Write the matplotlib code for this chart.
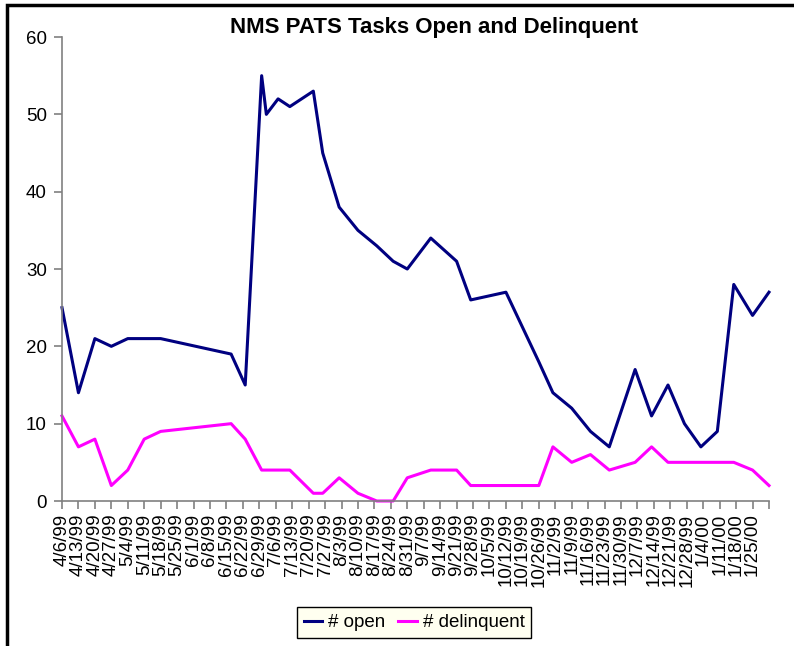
import datetime as dt
import matplotlib
matplotlib.use("Agg")
import matplotlib.pyplot as plt
import matplotlib.dates as mdates
from matplotlib.patches import Rectangle

plt.rcParams['font.family'] = ['Liberation Sans', 'DejaVu Sans']

title = "NMS PATS Tasks Open and Delinquent"

dates = ["1999-04-06", "1999-04-13", "1999-04-20", "1999-04-27", "1999-05-04",
         "1999-05-11", "1999-05-18", "1999-06-17", "1999-06-23", "1999-06-30",
         "1999-07-02", "1999-07-07", "1999-07-12", "1999-07-22", "1999-07-26",
         "1999-08-02", "1999-08-10", "1999-08-18", "1999-08-25", "1999-08-31",
         "1999-09-10", "1999-09-21", "1999-09-27", "1999-10-12", "1999-10-26",
         "1999-11-01", "1999-11-09", "1999-11-17", "1999-11-25", "1999-12-06",
         "1999-12-13", "1999-12-20", "1999-12-27", "2000-01-03", "2000-01-10",
         "2000-01-17", "2000-01-25", "2000-02-01"]

open_tasks = [25, 14, 21, 20, 21, 21, 21, 19, 15, 55,
              50, 52, 51, 53, 45, 38, 35, 33, 31, 30,
              34, 31, 26, 27, 18, 14, 12, 9, 7, 17,
              11, 15, 10, 7, 9, 28, 24, 27]

delinquent = [11, 7, 8, 2, 4, 8, 9, 10, 8, 4,
              4, 4, 4, 1, 1, 3, 1, 0, 0, 3,
              4, 4, 2, 2, 2, 7, 5, 6, 4, 5,
              7, 5, 5, 5, 5, 5, 4, 2]

tick_dates = ["1999-04-06", "1999-04-13", "1999-04-20", "1999-04-27", "1999-05-04",
              "1999-05-11", "1999-05-18", "1999-05-25", "1999-06-01", "1999-06-08",
              "1999-06-15", "1999-06-22", "1999-06-29", "1999-07-06", "1999-07-13",
              "1999-07-20", "1999-07-27", "1999-08-03", "1999-08-10", "1999-08-17",
              "1999-08-24", "1999-08-31", "1999-09-07", "1999-09-14", "1999-09-21",
              "1999-09-28", "1999-10-05", "1999-10-12", "1999-10-19", "1999-10-26",
              "1999-11-02", "1999-11-09", "1999-11-16", "1999-11-23", "1999-11-30",
              "1999-12-07", "1999-12-14", "1999-12-21", "1999-12-28", "2000-01-04",
              "2000-01-11", "2000-01-18", "2000-01-25", "2000-02-01"]

tick_labels = ["4/6/99", "4/13/99", "4/20/99", "4/27/99", "5/4/99",
               "5/11/99", "5/18/99", "5/25/99", "6/1/99", "6/8/99",
               "6/15/99", "6/22/99", "6/29/99", "7/6/99", "7/13/99",
               "7/20/99", "7/27/99", "8/3/99", "8/10/99", "8/17/99",
               "8/24/99", "8/31/99", "9/7/99", "9/14/99", "9/21/99",
               "9/28/99", "10/5/99", "10/12/99", "10/19/99", "10/26/99",
               "11/2/99", "11/9/99", "11/16/99", "11/23/99", "11/30/99",
               "12/7/99", "12/14/99", "12/21/99", "12/28/99", "1/4/00",
               "1/11/00", "1/18/00", "1/25/00", ""]

series_names = ["# open", "# delinquent"]

to_dt = lambda s: dt.datetime.strptime(s, "%Y-%m-%d")
x = [to_dt(d) for d in dates]
xt = [to_dt(d) for d in tick_dates]

fig = plt.figure(figsize=(7.94, 6.46), dpi=100)
ax = fig.add_axes([62/794, 1 - 501/646, (769 - 62)/794, (501 - 37)/646])

l1, = ax.plot(x, open_tasks, color="#000080", lw=2.2, label=series_names[0])
l2, = ax.plot(x, delinquent, color="#FF00FF", lw=2.2, label=series_names[1])

ax.set_xlim(xt[0], xt[-1])
ax.set_ylim(0, 60)
ax.set_yticks(range(0, 61, 10))
ax.set_xticks(mdates.date2num(xt))
ax.set_xticklabels(tick_labels, rotation=90, ha="center", va="top")
ax.tick_params(axis="both", labelsize=13.5, color="#808080", width=1.2, length=6)
ax.tick_params(axis="x", pad=3)
ax.tick_params(axis="y", pad=5)
for s in ["top", "right"]:
    ax.spines[s].set_visible(False)
for s in ["left", "bottom"]:
    ax.spines[s].set_color("#808080")
    ax.spines[s].set_linewidth(1.2)
for ln in (l1, l2):
    ln.set_clip_on(False)

fig.text(434/794, 1 - 28/646, title, ha="center", va="center",
         fontsize=16, fontweight="bold")

leg = fig.legend(handles=[l1, l2], loc="center", bbox_to_anchor=(414/794, 1 - 622.5/646),
                 ncol=2, fontsize=13.5, frameon=True, fancybox=False,
                 handlelength=1.0, handletextpad=0.3, columnspacing=0.7,
                 borderpad=0.35, borderaxespad=0)
leg.get_frame().set_facecolor("#FFFFF0")
leg.get_frame().set_edgecolor("black")
leg.get_frame().set_linewidth(1.0)
leg.get_frame().set_alpha(1)

fig.patches.append(Rectangle((7/794, -0.1), 1.2, 1 - 5/646 + 0.1, transform=fig.transFigure,
                             fill=False, edgecolor="black", linewidth=2.5))

fig.savefig("out.png", dpi=100)
